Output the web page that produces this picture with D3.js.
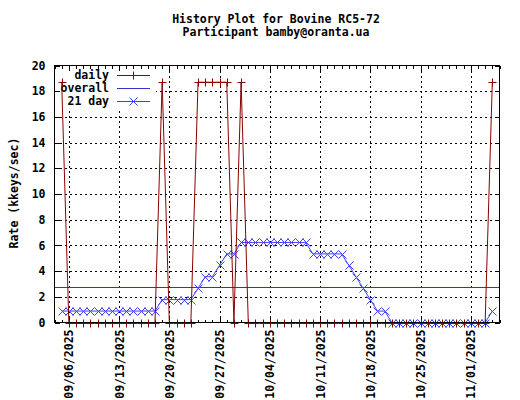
<!DOCTYPE html>
<html lang="en">
    <head>
        <meta charset="utf-8">
        <title>History Plot</title>
        <script type="text/javascript" src="https://cdn.jsdelivr.net/npm/d3@7/dist/d3.min.js"></script>
        <style>
            body { margin: 0; background: #fff; }
            text { font-family: "DejaVu Sans Mono", monospace; font-weight: bold; font-size: 11.5px; fill: #000; }
        </style>
    </head>
    <body>
        <script type="text/javascript">

            // data
            var days = [
                "2025-09-05","2025-09-06","2025-09-07","2025-09-08","2025-09-09","2025-09-10","2025-09-11",
                "2025-09-12","2025-09-13","2025-09-14","2025-09-15","2025-09-16","2025-09-17","2025-09-18",
                "2025-09-19","2025-09-20","2025-09-21","2025-09-22","2025-09-23","2025-09-24","2025-09-25",
                "2025-09-26","2025-09-27","2025-09-28","2025-09-29","2025-09-30","2025-10-01","2025-10-02",
                "2025-10-03","2025-10-04","2025-10-05","2025-10-06","2025-10-07","2025-10-08","2025-10-09",
                "2025-10-10","2025-10-11","2025-10-12","2025-10-13","2025-10-14","2025-10-15","2025-10-16",
                "2025-10-17","2025-10-18","2025-10-19","2025-10-20","2025-10-21","2025-10-22","2025-10-23",
                "2025-10-24","2025-10-25","2025-10-26","2025-10-27","2025-10-28","2025-10-29","2025-10-30",
                "2025-10-31","2025-11-01","2025-11-02","2025-11-03","2025-11-04"
            ];
            var daily = [
                18.7,0,0,0,0,0,0,
                0,0,0,0,0,0,0,
                18.7,0,0,0,0,18.7,18.7,
                18.7,18.7,18.7,0,18.7,0,0,
                0,0,0,0,0,0,0,
                0,0,0,0,0,0,0,
                0,0,0,0,0,0,0,
                0,0,0,0,0,0,0,
                0,0,0,0,18.7
            ];
            var avg21 = [
                0.89,0.89,0.89,0.89,0.89,0.89,0.89,
                0.89,0.89,0.89,0.89,0.89,0.89,0.89,
                1.78,1.78,1.78,1.78,1.78,2.67,3.56,
                3.56,4.45,5.34,5.34,6.23,6.23,6.23,
                6.23,6.23,6.23,6.23,6.23,6.23,6.23,
                5.34,5.34,5.34,5.34,5.34,4.45,3.56,
                2.67,1.78,0.89,0.89,0,0,0,
                0,0,0,0,0,0,0,
                0,0,0,0,0.89
            ];
            var overall = 2.77;
            var xDomain = ["2025-09-04", "2025-11-05"];
            var yTicks = [0, 2, 4, 6, 8, 10, 12, 14, 16, 18, 20];
            var weekTicks = ["2025-09-06","2025-09-13","2025-09-20","2025-09-27","2025-10-04",
                             "2025-10-11","2025-10-18","2025-10-25","2025-11-01"];
            var titleLines = ["History Plot for Bovine RC5-72", "Participant bamby@oranta.ua"];
            var legendNames = ["daily", "overall", "21 day"];

            var w = 520;
            var h = 400;
            var pLeft = 54.5, pRight = 499.5, pTop = 65.5, pBottom = 322.5;

            var colDaily = "#8b0000";
            var colOverall = "#3434c0";
            var colAvg = "#4040ff";

            var parse = d3.utcParse("%Y-%m-%d");
            var fmt = d3.utcFormat("%m/%d/%Y");

            var x = d3.scaleUtc()
                .domain(xDomain.map(parse))
                .range([pLeft, pRight]);
            var y = d3.scaleLinear()
                .domain([0, 20])
                .range([pBottom, pTop]);

            var svg = d3.select("body")
                .append("svg")
                .attr("width", w)
                .attr("height", h);

            svg.append("rect")
                .attr("width", w)
                .attr("height", h)
                .attr("fill", "#fff");

            //title
            svg.selectAll(".title")
                .data(titleLines)
                .enter()
                .append("text")
                .attr("class", "title")
                .attr("x", 276)
                .attr("y", function(d, i) { return 23 + i * 13; })
                .attr("text-anchor", "middle")
                .text(function(d) { return d; });

            //y label
            svg.append("text")
                .attr("transform", "translate(18,193) rotate(-90)")
                .attr("text-anchor", "middle")
                .text("Rate (kkeys/sec)");

            //grid
            var grid = svg.append("g")
                .attr("stroke", "#000")
                .attr("stroke-dasharray", "2,3")
                .attr("shape-rendering", "crispEdges");
            grid.selectAll(".gy")
                .data(yTicks.slice(1, -1))
                .enter()
                .append("line")
                .attr("x1", pLeft).attr("x2", pRight)
                .attr("y1", function(d) { return Math.round(y(d)) + 0.5; })
                .attr("y2", function(d) { return Math.round(y(d)) + 0.5; });
            grid.selectAll(".gx")
                .data(weekTicks)
                .enter()
                .append("line")
                .attr("y1", pTop).attr("y2", pBottom)
                .attr("x1", function(d) { return Math.round(x(parse(d))) + 0.5; })
                .attr("x2", function(d) { return Math.round(x(parse(d))) + 0.5; });

            //legend box covers the grid
            svg.append("rect")
                .attr("x", pLeft + 0.5)
                .attr("y", pTop + 0.5)
                .attr("width", 101)
                .attr("height", 42)
                .attr("fill", "#fff");

            //axes
            var yAxis = d3.axisLeft(y)
                .tickValues(yTicks)
                .tickSize(0)
                .tickPadding(9);
            svg.append("g")
                .attr("transform", "translate(" + pLeft + ",0)")
                .call(yAxis)
                .call(function(g) {
                    g.select(".domain").remove();
                    g.selectAll("text").attr("fill", null);
                    g.attr("font-size", null).attr("font-family", null);
                });

            var xAxis = d3.axisBottom(x)
                .tickValues(weekTicks.map(parse))
                .tickFormat(fmt)
                .tickSize(0);
            svg.append("g")
                .attr("transform", "translate(0," + pBottom + ")")
                .call(xAxis)
                .call(function(g) {
                    g.select(".domain").remove();
                    g.attr("font-size", null).attr("font-family", null);
                    g.selectAll("text")
                        .attr("fill", null)
                        .attr("text-anchor", "end")
                        .attr("transform", "translate(0,7) rotate(-90)")
                        .attr("x", 0)
                        .attr("y", 0)
                        .attr("dy", "0.35em");
                });

            //tick marks
            var ticks = svg.append("g")
                .attr("stroke", "#000")
                .attr("shape-rendering", "crispEdges");
            yTicks.forEach(function(d) {
                var yy = Math.round(y(d)) + 0.5;
                ticks.append("line").attr("x1", pLeft).attr("x2", pLeft + 5).attr("y1", yy).attr("y2", yy);
                ticks.append("line").attr("x1", pRight - 5).attr("x2", pRight).attr("y1", yy).attr("y2", yy);
            });
            x.ticks(d3.utcDay).forEach(function(d) {
                var xx = Math.round(x(d)) + 0.5;
                var len = weekTicks.indexOf(d3.utcFormat("%Y-%m-%d")(d)) >= 0 ? 5 : 3;
                ticks.append("line").attr("x1", xx).attr("x2", xx).attr("y1", pTop).attr("y2", pTop + len);
                ticks.append("line").attr("x1", xx).attr("x2", xx).attr("y1", pBottom).attr("y2", pBottom - len);
            });

            //legend text
            svg.selectAll(".leg")
                .data(legendNames)
                .enter()
                .append("text")
                .attr("class", "leg")
                .attr("x", 109)
                .attr("y", function(d, i) { return 75 + i * 13; })
                .attr("dy", "0.35em")
                .attr("text-anchor", "end")
                .text(function(d) { return d; });

            var pts = days.map(function(d, i) {
                return { date: parse(d), daily: daily[i], avg: avg21[i] };
            });

            //overall line
            svg.append("path")
                .attr("d", "M" + pLeft + "," + (Math.round(y(overall)) + 0.5) + "H" + pRight)
                .style("stroke", colOverall)
                .style("stroke-width", "1px")
                .style("fill", "none");

            //21 day average
            var avgLine = d3.line()
                .x(function(d) { return x(d.date); })
                .y(function(d) { return y(d.avg); });
            svg.append("path")
                .datum(pts)
                .attr("d", avgLine)
                .attr("fill", "none")
                .attr("stroke", colAvg)
                .attr("stroke-width", 1);
            svg.selectAll(".xm")
                .data(pts)
                .enter()
                .append("path")
                .attr("class", "xm")
                .attr("d", function(d) {
                    var cx = Math.round(x(d.date)) + 0.5, cy = Math.round(y(d.avg)) + 0.5;
                    return "M" + (cx - 4) + "," + (cy - 4) + "L" + (cx + 4) + "," + (cy + 4) +
                           "M" + (cx - 4) + "," + (cy + 4) + "L" + (cx + 4) + "," + (cy - 4);
                })
                .attr("stroke", colAvg)
                .attr("fill", "none");

            //daily
            var dailyLine = d3.line()
                .x(function(d) { return x(d.date); })
                .y(function(d) { return y(d.daily); });
            svg.append("path")
                .datum(pts)
                .attr("d", dailyLine)
                .attr("fill", "none")
                .attr("stroke", colDaily)
                .attr("stroke-width", 1);
            svg.selectAll(".pm")
                .data(pts)
                .enter()
                .append("path")
                .attr("class", "pm")
                .attr("d", function(d) {
                    var cx = Math.round(x(d.date)) + 0.5, cy = Math.round(y(d.daily)) + 0.5;
                    return "M" + (cx - 4) + "," + cy + "L" + (cx + 4) + "," + cy +
                           "M" + cx + "," + (cy - 4) + "L" + cx + "," + (cy + 4);
                })
                .attr("stroke", colDaily)
                .attr("fill", "none");

            //legend samples
            var samples = [colDaily, colOverall, colAvg];
            samples.forEach(function(c, i) {
                var yy = 75 + i * 13 + 0.5;
                svg.append("path")
                    .attr("d", "M117," + yy + "H150")
                    .style("stroke", c)
                    .style("stroke-width", "1px")
                    .style("fill", "none");
            });
            svg.append("path")
                .attr("d", "M129.5,75.5L137.5,75.5M133.5,71.5L133.5,79.5")
                .style("stroke", colDaily)
                .style("fill", "none");
            svg.append("path")
                .attr("d", "M129.5,97.5L137.5,105.5M129.5,105.5L137.5,97.5")
                .style("stroke", colAvg)
                .style("fill", "none");

            //frame
            svg.append("rect")
                .attr("x", pLeft).attr("y", pTop)
                .attr("width", pRight - pLeft)
                .attr("height", pBottom - pTop)
                .attr("fill", "none")
                .attr("stroke", "#000")
                .attr("shape-rendering", "crispEdges");

        </script>
    </body>
</html>
